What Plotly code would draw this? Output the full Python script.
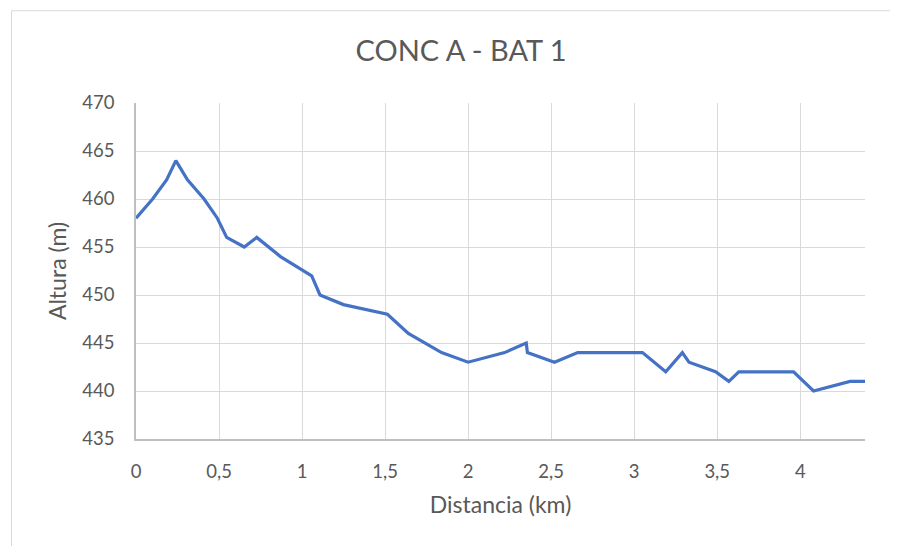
import plotly.graph_objects as go

# distance along profile (km) and elevation (m)
distancia_km = [0, 0.10, 0.185, 0.24, 0.31, 0.41, 0.49, 0.546, 0.652, 0.727,
                0.87, 1.058, 1.108, 1.249, 1.514, 1.64, 1.84, 2.0, 2.22, 2.35,
                2.357, 2.52, 2.66, 3.05, 3.19, 3.29, 3.33, 3.49, 3.57, 3.63,
                3.96, 4.08, 4.30, 4.39]
altura_m = [458, 460, 462, 464, 462, 460, 458, 456, 455, 456,
            454, 452, 450, 449, 448, 446, 444, 443, 444, 445,
            444, 443, 444, 444, 442, 444, 443, 442, 441, 442,
            442, 440, 441, 441]

grey = "#595959"
font = "Lato, 'Open Sans', sans-serif"

fig = go.Figure(go.Scatter(
    x=distancia_km, y=altura_m, mode="lines",
    line=dict(color="#4472C4", width=3.2), hoverinfo="x+y",
))

# page body adds an 8px margin, so the figure is 8px smaller on each side
fig.update_layout(
    width=890, height=538,
    margin=dict(l=128, r=33, t=95, b=107),
    paper_bgcolor="white", plot_bgcolor="white",
    separators=", ",
    font=dict(family=font, color=grey, size=18),
    showlegend=False,
    title=dict(text="CONC A - BAT 1", x=0.509, xref="container", xanchor="center",
               y=0.920, yanchor="middle",
               font=dict(size=29, color=grey, family=font)),
    shapes=[dict(type="rect", xref="paper", yref="paper",
                 x0=-0.1708, x1=1.06, y0=-0.34, y1=1.2747,
                 line=dict(color="#d9d9d9", width=1), layer="below")],
)

fig.update_xaxes(
    range=[0, 4.39], dtick=0.5, tick0=0,
    showgrid=True, gridcolor="#d9d9d9", gridwidth=1,
    showline=True, linecolor="#bfbfbf", linewidth=1.5,
    zeroline=False, ticks="", ticklabelstandoff=15,
    tickfont=dict(size=18.5, color=grey),
    title=dict(text="Distancia (km)", font=dict(size=23, color=grey), standoff=16),
)
fig.update_yaxes(
    range=[435, 470], dtick=5,
    showgrid=True, gridcolor="#d9d9d9", gridwidth=1,
    showline=True, linecolor="#bfbfbf", linewidth=1.5,
    zeroline=False, ticks="", ticklabelstandoff=16,
    tickfont=dict(size=18.5, color=grey),
    title=dict(text="Altura (m)", font=dict(size=23, color=grey), standoff=9),
)

fig.write_html("out.html")
